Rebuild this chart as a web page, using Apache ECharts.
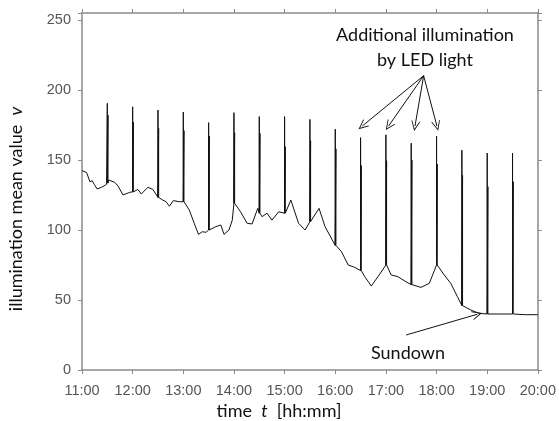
<!DOCTYPE html>
<html>
<head>
<meta charset="utf-8">
<script src="https://cdn.jsdelivr.net/npm/echarts@6/dist/echarts.min.js"></script>
<style>
html, body { margin: 0; padding: 0; background: #fff; }
#main { width: 559px; height: 421px; }
</style>
</head>
<body>
<div id="main"></div>
<script>
// minutes after 11:00
var baseTimes = [0, 5.5, 9.4, 12.1, 14.5, 18, 23.2, 29.1, 31.8, 38.8, 42.7, 48.6, 56.5, 62, 66.2, 70.2, 78, 83.9, 90.6,
    95.6, 99.6, 103.5, 108.2, 115.3, 120.8, 127.1, 132.9, 138, 142.7, 146.7, 150.8, 158.5, 164.4, 168.2, 174.1, 178,
    181, 187.9, 195.6, 201.5, 208.2, 211, 213.3, 219.2, 225, 232.9, 241.2, 247.4, 256.5, 264.3, 270.9, 280.8, 287.9,
    300.8, 307.4, 315.3, 323.2, 331.4, 334.9, 342.7, 350.6, 360.8, 366.2, 374.1, 383.9, 391.8, 401.5, 411.4,
    421.2, 429.1, 436.8, 444.7, 451.4, 460.4, 470.2, 482, 495, 510, 525, 540];
var baseValues = [142.4, 141, 134.5, 135.2, 132.6, 129.3, 130.5, 132.6, 135.7, 134, 131.4, 125, 126.9, 127.4, 129, 125.7, 130.5, 129, 123.3,
    121.4, 120.2, 117, 121, 120.2, 120.2, 114.3, 104.8, 96.9, 98.8, 98.3, 100, 102.4, 103.6, 96.9, 100, 107,
    119, 113, 104.8, 104.3, 115.5, 112, 109.5, 112, 107, 113, 112, 121.4, 104.8, 100, 106, 115.5, 102.4,
    89.3, 84.5, 75, 73.3, 71.4, 66.7, 60, 66.7, 75, 67.9, 66.7, 63, 60.7, 59, 61.9,
    75, 67.9, 61.9, 52.4, 46.4, 42.9, 40.5, 39.8, 40, 40, 39.5, 39.5];

// LED flashes every 30 minutes
var spikeTimes = [30, 60, 90, 120, 150, 180, 210, 240, 270, 300, 330, 360, 390, 420, 450, 480, 510];
var spikeBases = [133.5, 127.2, 123.3, 120.2, 100, 119, 112, 112, 106, 89, 71, 75, 61, 75, 46, 40, 40];
var spikeTops  = [190.5, 188, 185.7, 184.3, 176.7, 183.8, 181, 181, 179, 172, 166, 168, 162, 167, 157, 155, 155];
var spikeMids  = [182, 177, 172.6, 171, 167, 169.5, 169, 159.5, 163.8, 157.9, 146, 149.5, 150, 147, 139, 131, 134.5];

var yTicks = [0, 50, 100, 150, 200, 250];

var groups = [];
for (var i = 0; i < baseTimes.length; i++) {
    groups.push({ t: baseTimes[i], pts: [[baseTimes[i], baseValues[i]]] });
}
for (var j = 0; j < spikeTimes.length; j++) {
    var t = spikeTimes[j], b = spikeBases[j];
    groups.push({ t: t, pts: [[t, b], [t, spikeTops[j]], [t, b], [t + 0.8, b], [t + 0.8, spikeMids[j]], [t + 0.8, b]] });
}
groups.sort(function (a, b) { return a.t - b.t; });
var lineData = [];
groups.forEach(function (g) { lineData = lineData.concat(g.pts); });

function hhmm(v) {
    var m = 11 * 60 + v;
    var h = Math.floor(m / 60), mm = m % 60;
    return h + ':' + (mm < 10 ? '0' : '') + mm;
}

var arrowHead = 'path://M0,10 L5,0 L10,10 L9,10 L5,2.2 L1,10 Z';
var axisGray = '#8a8a8a';
var labelFont = 'Liberation Sans';
var textFont = 'Lato';

function frameAxis(pos, isX) {
    return {
        type: 'value', position: pos,
        min: 0, max: isX ? 540 : 255, interval: isX ? 60 : 50,
        axisLine: { show: true, onZero: false, lineStyle: { color: axisGray, width: 1.5 } },
        axisTick: { show: true, inside: false, length: 4, lineStyle: { color: axisGray } },
        splitLine: { show: false },
        axisLabel: { show: false }
    };
}

var xBottom = frameAxis('bottom', true);
xBottom.axisLabel = { formatter: hhmm, color: '#555', fontFamily: labelFont, fontSize: 14.5, margin: 13 };
var yLeft = frameAxis('left', false);
yLeft.axisLabel = {
    color: '#555', fontFamily: labelFont, fontSize: 14.5, margin: 11,
    formatter: function (v) { return yTicks.indexOf(v) >= 0 ? v : ''; }
};

var titleRich = {
    a: { fontFamily: textFont, fontSize: 18, fill: '#111' },
    i: { fontFamily: textFont, fontSize: 18, fill: '#111', fontStyle: 'italic' }
};

var chart = echarts.init(document.getElementById('main'));
var option = {
    animation: false,
    backgroundColor: '#fff',
    grid: { left: 82, right: 18, top: 13, bottom: 51 },
    xAxis: [xBottom, frameAxis('top', true)],
    yAxis: [yLeft, frameAxis('right', false)],
    graphic: [
        { type: 'text', x: 279, y: 411, style: { text: '{a|time  }{i|t}{a|  [hh:mm]}', rich: titleRich, align: 'center', verticalAlign: 'middle' } },
        { type: 'text', x: 16, y: 209, rotation: Math.PI / 2, style: { text: '{a|illumination mean value  }{i|v}', rich: titleRich, align: 'center', verticalAlign: 'middle' } },
        { type: 'text', x: 425, y: 35, style: { text: 'Additional illumination', font: '18px Lato', fill: '#111', align: 'center', verticalAlign: 'middle' } },
        { type: 'text', x: 425, y: 60, style: { text: 'by LED light', font: '18px Lato', fill: '#111', align: 'center', verticalAlign: 'middle' } },
        { type: 'text', x: 408, y: 353, style: { text: 'Sundown', font: '18px Lato', fill: '#111', align: 'center', verticalAlign: 'middle' } }
    ],
    series: [{
        type: 'line',
        data: lineData,
        showSymbol: false,
        silent: true,
        lineStyle: { color: '#111', width: 1 },
        markLine: {
            silent: true,
            symbol: ['none', arrowHead],
            symbolSize: [9, 10],
            label: { show: false },
            lineStyle: { color: '#111', width: 1, type: 'solid' },
            data: [
                [{ coord: [404.7, 210.2] }, { coord: [332.1, 174.3] }],
                [{ coord: [404.7, 210.2] }, { coord: [363.2, 174.3] }],
                [{ coord: [404.7, 210.2] }, { coord: [394.5, 174.3] }],
                [{ coord: [404.7, 210.2] }, { coord: [420.4, 174.3] }],
                [{ coord: [383.9, 25] }, { coord: [468.2, 39.8] }]
            ]
        }
    }]
};
chart.setOption(option);
</script>
</body>
</html>
